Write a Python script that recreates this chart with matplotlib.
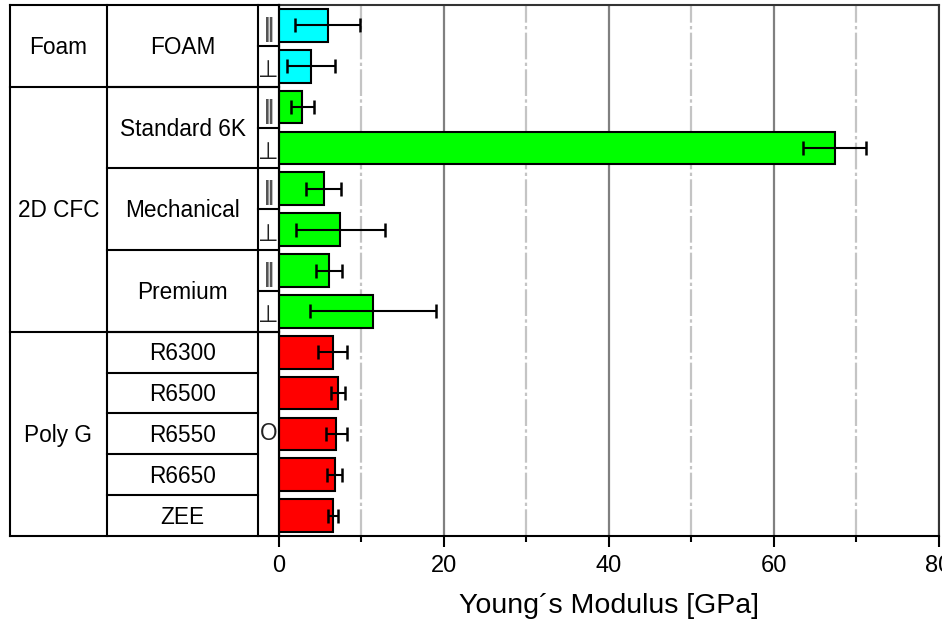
import matplotlib
matplotlib.use("Agg")
import matplotlib.pyplot as plt
from matplotlib.lines import Line2D
from matplotlib import transforms
from matplotlib.ticker import MultipleLocator

plt.rcParams['font.family'] = ['Liberation Sans', 'DejaVu Sans']

# ---- data ----
groups = ["Foam", "2D CFC", "Poly G"]
group_sizes = [2, 6, 5]
group_colors = ["#00ffff", "#00ff00", "#ff0000"]
materials = ["FOAM", "Standard 6K", "Mechanical", "Premium",
             "R6300", "R6500", "R6550", "R6650", "ZEE"]
material_sizes = [2, 2, 2, 2, 1, 1, 1, 1, 1]
orientations = ["‖", "⊥", "‖", "⊥", "‖", "⊥", "‖", "⊥", "O"]
orientation_sizes = [1, 1, 1, 1, 1, 1, 1, 1, 5]
values = [5.9, 3.85, 2.8, 67.4, 5.4, 7.45, 6.05, 11.4,
          6.5, 7.2, 6.95, 6.75, 6.5]
errors = [3.9, 2.9, 1.4, 3.8, 2.1, 5.4, 1.6, 7.7,
          1.75, 0.85, 1.3, 0.95, 0.6]
xlabel = "Young´s Modulus [GPa]"

W, H = 942, 622
fig = plt.figure(figsize=(W / 100, H / 100), dpi=100)
ax_left, ax_right, ax_top, ax_bot = 279, 938.5, 5, 536
ax = fig.add_axes([ax_left / W, 1 - ax_bot / H, (ax_right - ax_left) / W,
                   (ax_bot - ax_top) / H])

n = len(values)
ypos = list(range(n))
colors = []
for c, s in zip(group_colors, group_sizes):
    colors += [c] * s

ax.barh(ypos, values, height=0.8, color=colors, edgecolor="black",
        linewidth=1.5, zorder=3)
ax.errorbar(values, ypos, xerr=errors, fmt="none", ecolor="black",
            elinewidth=1.5, capsize=4.7, capthick=1.8, zorder=4)

ax.set_xlim(0, 80)
ax.set_ylim(n - 0.5, -0.5)
ax.set_yticks([])
ax.xaxis.set_major_locator(MultipleLocator(20))
ax.xaxis.set_minor_locator(MultipleLocator(10))
ax.grid(which="major", axis="x", color="#808080", linewidth=1.6, zorder=1)
ax.grid(which="minor", axis="x", color="#c4c4c4", linewidth=1.6,
        linestyle=(0, (12, 1.5, 1.5, 1.5)), zorder=1)
ax.tick_params(axis="x", which="major", length=8, width=1.5, labelsize=17,
               pad=6)
ax.tick_params(axis="x", which="minor", length=4, width=1.5)
for sp in ax.spines.values():
    sp.set_linewidth(1.5)
ax.spines["top"].set_color("#333333")
ax.spines["right"].set_color("#333333")
ax.set_xlabel(xlabel, fontsize=20.5, labelpad=11)

# ---- table on the left ----
trans = transforms.blended_transform_factory(fig.transFigure, ax.transData)
x0, x1, x2, x3 = 10 / W, 107 / W, 258 / W, 279 / W
lw = 1.5
top, bot = -0.5, n - 0.5


def hline(xa, xb, y):
    fig.add_artist(Line2D([xa, xb], [y, y], transform=trans, color="black",
                          linewidth=lw, clip_on=False))


def vline(x, ya, yb):
    fig.add_artist(Line2D([x, x], [ya, yb], transform=trans, color="black",
                          linewidth=lw, clip_on=False))


for x in (x0, x1, x2, x3):
    vline(x, top, bot)
hline(x0, x3, top)
hline(x0, x3, bot)

fs = 16.3
# column 1: groups
start = 0
for g, s in zip(groups, group_sizes):
    fig.text((x0 + x1) / 2, start + s / 2 - 0.5 + 0.04, g, transform=trans,
             ha="center", va="center", fontsize=fs)
    start += s
    if start < n:
        hline(x0, x3, start - 0.5)

# column 2: materials
start = 0
for m, s in zip(materials, material_sizes):
    fig.text((x1 + x2) / 2, start + s / 2 - 0.5 + 0.04, m, transform=trans,
             ha="center", va="center", fontsize=fs)
    start += s
    if start < n:
        hline(x1, x2, start - 0.5)

# column 3: orientation
start = 0
for o, s in zip(orientations, orientation_sizes):
    if o == "O":
        fig.text((x2 + x3) / 2, start + s / 2 - 0.5, o, transform=trans,
                 ha="center", va="center", fontsize=fs, color="#222222")
    else:
        fig.text((x2 + x3) / 2, start + s / 2 - 0.5 + 0.1, o,
                 transform=trans, ha="center", va="center", fontsize=17,
                 color="#555555" if o == "‖" else "#222222",
                 fontweight="bold" if o == "‖" else "normal",
                 family=["DejaVu Sans"])
    start += s
    if start < n:
        hline(x2, x3, start - 0.5)

fig.savefig("out.png", dpi=100)
